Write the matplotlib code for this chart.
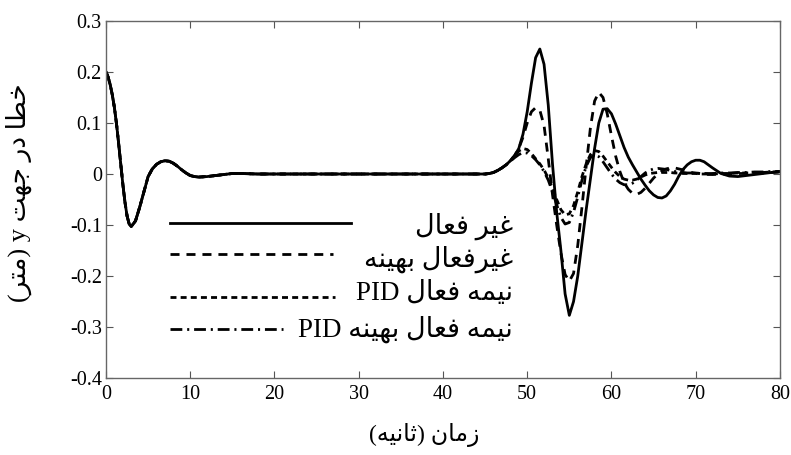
import matplotlib
matplotlib.use("Agg")
import matplotlib.pyplot as plt
from matplotlib.lines import Line2D

# shared start of every run (0 .. 45 s), all four curves lie on top of each other
t_early = [0, 0.25, 0.5, 0.75, 1, 1.25, 1.5, 1.75, 2, 2.25, 2.5, 2.75, 3, 3.5, 4, 4.5, 5,
           5.5, 6, 6.5, 7, 7.5, 8, 8.5, 9, 9.5, 10, 10.5, 11, 12, 13, 14, 15, 16, 18, 20,
           30, 40]
y_early = [0.2, 0.19, 0.175, 0.155, 0.13, 0.098, 0.06, 0.02, -0.02, -0.055, -0.082, -0.098,
           -0.103, -0.092, -0.065, -0.035, -0.005, 0.01, 0.019, 0.024, 0.026, 0.025, 0.021,
           0.015, 0.008, 0.002, -0.003, -0.005, -0.006, -0.005, -0.003, -0.001, 0.001,
           0.001, 0.0, 0.0, 0.0, 0.0]

t_late = [45, 45.5, 46, 46.5, 47, 47.5, 48, 48.5, 49, 49.5, 50, 50.5, 51, 51.5, 52, 52.5,
          53, 53.5, 54, 54.5, 55, 55.5, 56, 56.5, 57, 57.5, 58, 58.5, 59, 59.5, 60, 60.5,
          61, 61.5, 62, 62.5, 63, 63.5, 64, 64.5, 65, 65.5, 66, 66.5, 67, 67.5, 68, 68.5,
          69, 69.5, 70, 70.5, 71, 71.5, 72, 73, 74, 75, 76, 77, 78, 79, 80]

passive = [0, 0.001, 0.003, 0.007, 0.012, 0.018, 0.026, 0.036, 0.05, 0.078, 0.122, 0.178,
           0.228, 0.245, 0.215, 0.135, 0.02, -0.075, -0.15, -0.235, -0.277, -0.25, -0.2,
           -0.135, -0.07, -0.01, 0.05, 0.1, 0.127, 0.128, 0.118, 0.098, 0.075, 0.052, 0.033,
           0.018, 0.004, -0.01, -0.022, -0.033, -0.041, -0.046, -0.047, -0.043, -0.033,
           -0.02, -0.004, 0.009, 0.018, 0.024, 0.027, 0.027, 0.024, 0.018, 0.012, 0.001,
           -0.004, -0.005, -0.003, -0.001, 0.001, 0.003, 0.005]
passive_opt = [0, 0.001, 0.003, 0.007, 0.012, 0.018, 0.026, 0.036, 0.05, 0.072, 0.1, 0.122,
               0.13, 0.125, 0.095, 0.03, -0.04, -0.1, -0.155, -0.197, -0.21, -0.195, -0.14,
               -0.065, 0.015, 0.09, 0.143, 0.16, 0.15, 0.118, 0.075, 0.035, 0.005, -0.017,
               -0.03, -0.038, -0.04, -0.036, -0.028, -0.018, -0.008, 0.0, 0.006, 0.01, 0.012,
               0.012, 0.01, 0.008, 0.005, 0.003, 0.002, 0.001, 0.0, -0.001, -0.001, 0.0, 0.0,
               0.001, 0.001, 0.002, 0.002, 0.003, 0.004]
semi_pid = [0, 0.001, 0.003, 0.007, 0.012, 0.018, 0.026, 0.036, 0.045, 0.05, 0.048, 0.04,
            0.03, 0.02, 0.008, -0.008, -0.028, -0.05, -0.07, -0.08, -0.078, -0.062, -0.035,
            -0.005, 0.02, 0.038, 0.046, 0.044, 0.035, 0.024, 0.013, 0.003, -0.005, -0.01,
            -0.012, -0.012, -0.01, -0.006, -0.002, 0.001, 0.002, 0.003, 0.003, 0.003, 0.003,
            0.002, 0.002, 0.001, 0.001, 0.001, 0.001, 0.0, 0.0, 0.0, 0.0, 0.001, 0.001,
            0.002, 0.002, 0.003, 0.003, 0.004, 0.004]
semi_pid_opt = [0, 0.001, 0.003, 0.007, 0.012, 0.018, 0.025, 0.032, 0.038, 0.042, 0.041,
                0.036, 0.028, 0.018, 0.005, -0.012, -0.035, -0.06, -0.085, -0.098, -0.095,
                -0.075, -0.045, -0.012, 0.015, 0.032, 0.038, 0.034, 0.024, 0.012, 0.0, -0.01,
                -0.017, -0.021, -0.021, -0.018, -0.012, -0.005, 0.002, 0.007, 0.01, 0.011,
                0.01, 0.009, 0.007, 0.005, 0.004, 0.003, 0.002, 0.002, 0.002, 0.001, 0.001,
                0.001, 0.001, 0.002, 0.002, 0.003, 0.003, 0.004, 0.004, 0.005, 0.005]

labels = ["غیر فعال", "غیرفعال بهینه", "نیمه فعال", "نیمه فعال بهینه"]
label_suffix = ["", "", "PID ", "PID "]
x_ticks = [0, 10, 20, 30, 40, 50, 60, 70, 80]
y_ticks = [-0.4, -0.3, -0.2, -0.1, 0, 0.1, 0.2, 0.3]
y_ticklabels = ["-0.4", "-0.3", "-0.2", "-0.1", "0", "0.1", "0.2", "0.3"]

# --- minimal Persian shaping (matplotlib has no RTL layout) ---
FORMS = {
    'ا': ('\uFE8D', '\uFE8E', None, None),
    'ب': ('\uFE8F', '\uFE90', '\uFE91', '\uFE92'),
    'ت': ('\uFE95', '\uFE96', '\uFE97', '\uFE98'),
    'ث': ('\uFE99', '\uFE9A', '\uFE9B', '\uFE9C'),
    'ج': ('\uFE9D', '\uFE9E', '\uFE9F', '\uFEA0'),
    'خ': ('\uFEA5', '\uFEA6', '\uFEA7', '\uFEA8'),
    'د': ('\uFEA9', '\uFEAA', None, None),
    'ر': ('\uFEAD', '\uFEAE', None, None),
    'ز': ('\uFEAF', '\uFEB0', None, None),
    'ط': ('\uFEC1', '\uFEC2', '\uFEC3', '\uFEC4'),
    'ع': ('\uFEC9', '\uFECA', '\uFECB', '\uFECC'),
    'غ': ('\uFECD', '\uFECE', '\uFECF', '\uFED0'),
    'ف': ('\uFED1', '\uFED2', '\uFED3', '\uFED4'),
    'ل': ('\uFEDD', '\uFEDE', '\uFEDF', '\uFEE0'),
    'م': ('\uFEE1', '\uFEE2', '\uFEE3', '\uFEE4'),
    'ن': ('\uFEE5', '\uFEE6', '\uFEE7', '\uFEE8'),
    'ه': ('\uFEE9', '\uFEEA', '\uFEEB', '\uFEEC'),
    'ی': ('\uFBFC', '\uFBFD', '\uFBFE', '\uFBFF'),
}


def fa(s):
    """shape Persian text and return it in visual (left-to-right) order"""
    out = []
    for i, ch in enumerate(s):
        if ch not in FORMS:
            out.append(ch)
            continue
        prev = s[i - 1] if i > 0 else ''
        nxt = s[i + 1] if i + 1 < len(s) else ''
        jp = prev in FORMS and FORMS[prev][2] is not None
        jn = nxt in FORMS and FORMS[ch][2] is not None
        iso, fin, ini, med = FORMS[ch]
        if jp and jn:
            out.append(med)
        elif jp:
            out.append(fin)
        elif jn:
            out.append(ini)
        else:
            out.append(iso)
    vis = ''.join(reversed(out))
    return vis.translate(str.maketrans('()', ')('))


plt.rcParams['font.family'] = ['Liberation Serif', 'DejaVu Sans']
plt.rcParams['lines.scale_dashes'] = False

fig = plt.figure(figsize=(7.91, 4.55), dpi=100)
ax = fig.add_axes([0.134, 0.169, 0.852, 0.785])

styles = [
    dict(linestyle='-'),
    dict(linestyle=(0, (6.5, 5))),
    dict(linestyle=(0, (4.3, 3))),
    dict(linestyle=(0, (8.5, 3.5, 1.5, 3.5))),
]
series = [passive, passive_opt, semi_pid, semi_pid_opt]

for vals, st in zip(series, styles):
    ax.plot(t_early + t_late, y_early + vals, color='black', lw=2.0, **st)

ax.set_xlim(0, 80)
ax.set_ylim(-0.4, 0.3)
ax.set_xticks(x_ticks)
ax.set_yticks(y_ticks)
ax.set_yticklabels(y_ticklabels)
ax.tick_params(direction='in', top=True, right=True, length=5, width=0.8,
               color='#555555', labelsize=14.5)
ax.tick_params(axis='x', pad=5)
ax.tick_params(axis='y', pad=3)
for sp in ax.spines.values():
    sp.set_color('#666666')
    sp.set_linewidth(1.0)

# hand-made legend (lines on the left, Persian text right-aligned)
leg_lines = [(7.6, 29.1, -0.096), (7.6, 26.9, -0.157), (7.6, 27.2, -0.241), (7.6, 21.0, -0.304)]
leg_text_y = [-0.102, -0.167, -0.235, -0.304]
for (x0, x1, yy), st, ty, lab, suf in zip(leg_lines, styles, leg_text_y, labels, label_suffix):
    ax.add_line(Line2D([x0, x1], [yy, yy], color='black', lw=2.0, **st))
    ax.text(48.3, ty, suf + fa(lab), ha='right', va='center', fontsize=19.5)

ax.set_xlabel(fa("زمان (ثانیه)"), fontsize=17)
ax.xaxis.set_label_coords(0.472, -0.125)
ax.set_ylabel(fa("(متر)") + " y " + fa("خطا در جهت"), fontsize=19)
ax.yaxis.set_label_coords(-0.11, 0.52)

fig.savefig("out.png", dpi=100)
